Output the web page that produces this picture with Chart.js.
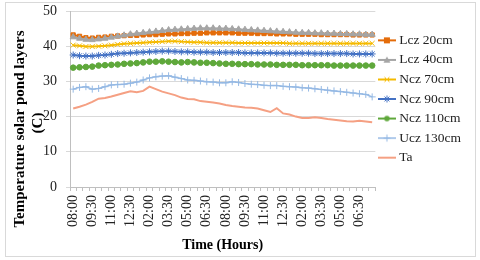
<!DOCTYPE html>
<html>
<head>
<meta charset="utf-8">
<script src="https://cdn.jsdelivr.net/npm/chart.js@4.4.1/dist/chart.umd.min.js"></script>
<style>
  html, body { margin: 0; padding: 0; background: #fff; }
  #wrap { width: 480px; height: 260px; }
</style>
</head>
<body>
<div id="wrap"><canvas id="pond_chart" width="480" height="260"></canvas></div>
<script>
// half-hour readings, 08:00 through 07:30 next morning
var times = ["08:00","08:30","09:00","09:30","10:00","10:30","11:00","11:30","12:00","12:30","01:00","01:30",
             "02:00","02:30","03:00","03:30","04:00","04:30","05:00","05:30","06:00","06:30","07:00","07:30",
             "08:00","08:30","09:00","09:30","10:00","10:30","11:00","11:30","12:00","12:30","01:00","01:30",
             "02:00","02:30","03:00","03:30","04:00","04:30","05:00","05:30","06:00","06:30","07:00","07:30"];

var lcz20 = [43.2,42.8,42.4,42.3,42.5,42.6,42.8,42.9,43.0,43.1,43.1,43.2,43.3,43.3,43.4,43.5,43.5,43.6,43.6,43.7,43.7,43.8,43.8,43.8,
             43.8,43.8,43.7,43.7,43.7,43.6,43.6,43.6,43.5,43.5,43.5,43.4,43.4,43.4,43.4,43.3,43.3,43.3,43.3,43.3,43.2,43.2,43.2,43.2];
var lcz40 = [42.6,42.2,41.9,41.8,42.0,42.2,42.5,42.8,43.1,43.4,43.6,43.8,44.0,44.2,44.4,44.6,44.7,44.8,44.9,45.0,45.1,45.1,45.1,45.0,
             45.0,44.9,44.8,44.7,44.6,44.5,44.4,44.3,44.2,44.1,44.0,43.9,43.8,43.8,43.7,43.7,43.6,43.6,43.5,43.5,43.4,43.4,43.3,43.3];
var ncz70 = [40.3,40.1,39.9,39.9,40.0,40.1,40.3,40.5,40.7,40.8,40.9,41.0,41.1,41.2,41.3,41.4,41.4,41.3,41.2,41.1,41.1,41.0,41.0,41.0,
             41.0,41.0,40.9,40.9,40.9,40.9,40.9,40.9,40.9,40.9,40.8,40.8,40.8,40.8,40.8,40.8,40.8,40.8,40.8,40.8,40.8,40.8,40.8,40.8];
var ncz90 = [37.5,37.3,37.2,37.2,37.4,37.5,37.7,37.9,38.0,38.1,38.2,38.3,38.4,38.5,38.6,38.6,38.5,38.4,38.4,38.3,38.3,38.3,38.2,38.2,
             38.2,38.2,38.2,38.1,38.1,38.1,38.1,38.1,38.0,38.0,38.0,38.0,38.0,38.0,37.9,37.9,37.9,37.9,37.9,37.9,37.8,37.8,37.8,37.8];
var ncz110 = [33.9,34.0,34.1,34.2,34.5,34.6,34.7,34.8,35.0,35.1,35.2,35.4,35.6,35.6,35.7,35.6,35.5,35.4,35.5,35.4,35.3,35.3,35.2,35.1,
              35.0,35.0,34.9,34.9,34.9,34.8,34.8,34.8,34.7,34.7,34.7,34.7,34.6,34.6,34.6,34.6,34.6,34.5,34.5,34.5,34.5,34.5,34.5,34.5];
var ucz130 = [27.8,28.3,28.5,27.8,28.0,28.5,29.0,29.1,29.2,29.5,29.8,30.4,31.0,31.3,31.5,31.6,31.2,30.8,30.4,30.3,30.1,29.9,29.8,29.6,
              29.6,29.9,29.7,29.4,29.2,29.1,28.9,28.8,28.8,28.6,28.5,28.4,28.2,28.1,27.9,27.7,27.5,27.3,27.1,26.9,26.7,26.5,26.3,25.6];
var ta = [22.3,22.8,23.4,24.2,25.1,25.3,25.7,26.2,26.7,27.2,26.9,27.3,28.5,27.8,27.1,26.6,26.1,25.4,25.0,24.9,24.4,24.2,24.0,23.7,
          23.3,23.0,22.8,22.6,22.5,22.3,21.8,21.3,22.4,20.9,20.6,20.0,19.6,19.6,19.8,19.6,19.3,19.1,18.9,18.7,18.6,18.8,18.6,18.4];

var seriesNames = ["Lcz 20cm", "Lcz 40cm", "Ncz 70cm", "Ncz 90cm", "Ncz 110cm", "Ucz 130cm", "Ta"];
var yTicks = [0, 10, 20, 30, 40, 50];
var xTitle = "Time (Hours)";
var yTitle = ["Temperature solar pond layers", "(C)"];

var serif = "'Liberation Serif', 'Times New Roman', serif";
var colors = ["#E46C0A", "#A5A5A5", "#F5BA00", "#4472C4", "#5FA83B", "#95B9E4", "#F5A083"];
var markers = ["rect", "triangle", "crossRot", "star", "circle", "cross", false];
var radii = [3, 3.5, 3.5, 3.5, 2.8, 3.5, 0];
var widths = [2, 2, 2, 2, 2, 1.5, 2];

// little line+marker picture for each legend entry
function legendIcon(i) {
    var c = document.createElement("canvas");
    c.width = 18; c.height = 10;
    var g = c.getContext("2d");
    g.strokeStyle = colors[i];
    g.fillStyle = colors[i];
    g.lineWidth = widths[i];
    g.beginPath(); g.moveTo(0, 5); g.lineTo(18, 5); g.stroke();
    var r = radii[i], x = 9, y = 5;
    g.lineWidth = 1;
    switch (markers[i]) {
        case "rect": g.fillRect(x - r, y - r, 2 * r, 2 * r); break;
        case "circle": g.beginPath(); g.arc(x, y, r, 0, Math.PI * 2); g.fill(); break;
        case "triangle":
            g.beginPath(); g.moveTo(x, y - r); g.lineTo(x + r, y + r * 0.8); g.lineTo(x - r, y + r * 0.8); g.closePath(); g.fill(); break;
        case "cross":
            g.beginPath(); g.moveTo(x, y - r); g.lineTo(x, y + r); g.moveTo(x - r, y); g.lineTo(x + r, y); g.stroke(); break;
        case "crossRot":
            g.beginPath(); g.moveTo(x - r * 0.7, y - r * 0.7); g.lineTo(x + r * 0.7, y + r * 0.7);
            g.moveTo(x + r * 0.7, y - r * 0.7); g.lineTo(x - r * 0.7, y + r * 0.7); g.stroke(); break;
        case "star":
            g.beginPath(); g.moveTo(x, y - r); g.lineTo(x, y + r); g.moveTo(x - r, y); g.lineTo(x + r, y);
            g.moveTo(x - r * 0.7, y - r * 0.7); g.lineTo(x + r * 0.7, y + r * 0.7);
            g.moveTo(x + r * 0.7, y - r * 0.7); g.lineTo(x - r * 0.7, y + r * 0.7); g.stroke(); break;
    }
    return c;
}

var allData = [lcz20, lcz40, ncz70, ncz90, ncz110, ucz130, ta];
var datasets = allData.map(function(d, i) {
    return {
        label: seriesNames[i],
        data: d,
        borderColor: colors[i],
        backgroundColor: colors[i],
        borderWidth: widths[i],
        pointStyle: markers[i],
        pointRadius: radii[i],
        pointBorderWidth: 1,
        pointBorderColor: colors[i],
        pointBackgroundColor: colors[i],
        tension: 0,
        order: 10 - i   // later series on top, like the original
    };
});

var frame = {
    id: "frame",
    beforeDraw: function(chart) {
        var ctx = chart.ctx;
        ctx.save();
        ctx.fillStyle = "#fff";
        ctx.fillRect(0, 0, chart.width, chart.height);
        ctx.strokeStyle = "#D9D9D9";
        ctx.lineWidth = 1;
        ctx.strokeRect(5.5, 2.5, 470, 254);
        ctx.restore();
    },
    afterDraw: function(chart) {
        var ctx = chart.ctx;
        var spots = [[20, 129], [38, 123]];
        yTitle.forEach(function(t, i) {
            ctx.save();
            ctx.fillStyle = "#000";
            ctx.font = "bold 15px " + serif;
            ctx.textAlign = "center";
            ctx.textBaseline = "middle";
            ctx.translate(spots[i][0], spots[i][1]);
            ctx.rotate(-Math.PI / 2);
            ctx.fillText(t, 0, 0);
            ctx.restore();
        });
    }
};

var ctx = document.getElementById("pond_chart").getContext("2d");
new Chart(ctx, {
    type: "line",
    data: { labels: times, datasets: datasets },
    options: {
        responsive: false,
        devicePixelRatio: 1,
        animation: false,
        layout: { padding: { left: 40, top: 11, right: 9, bottom: 0 } },
        plugins: {
            tooltip: { enabled: false },
            legend: {
                position: "right",
                fullSize: false,
                labels: {
                    usePointStyle: true,
                    pointStyleWidth: 11,
                    padding: 6.05,
                    color: "#222",
                    font: { family: serif, size: 13.5 },
                    generateLabels: function(chart) {
                        return seriesNames.map(function(n, i) {
                            return { text: n, pointStyle: legendIcon(i), fillStyle: colors[i], strokeStyle: colors[i],
                                     lineWidth: 0, hidden: false, datasetIndex: i, fontColor: "#222" };
                        });
                    }
                }
            }
        },
        scales: {
            x: {
                offset: true,
                afterFit: function(s) { s.height = 73; s.paddingLeft = 0; s.paddingRight = 0; },
                grid: { offset: true, drawOnChartArea: false, drawTicks: true, tickLength: 4, color: "#BFBFBF" },
                border: { color: "#BFBFBF" },
                ticks: {
                    autoSkip: false, maxRotation: 90, minRotation: 90, padding: 4,
                    color: "#222", font: { family: serif, size: 14 },
                    callback: function(v, i) { return i % 3 === 0 ? times[i] : ""; }
                },
                title: { display: true, text: xTitle, color: "#000", font: { family: serif, size: 14, weight: "bold" }, padding: { top: 4, bottom: 6 } }
            },
            y: {
                min: 0, max: 50,
                afterFit: function(s) { s.width = 30; s.paddingTop = 0; s.paddingBottom = 0; },
                afterBuildTicks: function(s) { s.ticks = yTicks.map(function(v) { return { value: v }; }); },
                grid: { color: "#D9D9D9", tickLength: 4 },
                border: { color: "#BFBFBF" },
                ticks: { padding: 9, color: "#222", font: { family: serif, size: 14 } }
            }
        }
    },
    plugins: [frame]
});
</script>
</body>
</html>
